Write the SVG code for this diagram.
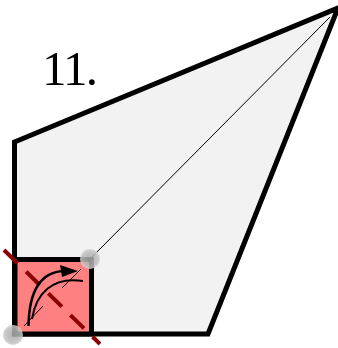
<svg xmlns="http://www.w3.org/2000/svg" width="338" height="348" viewBox="0 0 338 348">
<defs>
<radialGradient id="g"><stop offset="0" stop-color="#a8a8a8"/><stop offset="0.7" stop-color="#bcbcbc"/><stop offset="1" stop-color="#d0d0d0"/></radialGradient>
</defs>
<style>.k{fill:none;stroke:#000}</style>
<path d="M14.500 142L338 8L208 334L14.500 334Z" fill="#f2f2f2" stroke="#000" stroke-width="5" stroke-linejoin="miter"/>
<text x="42" y="85" font-family="'Liberation Serif','Times New Roman',serif" font-size="49" textLength="56" lengthAdjust="spacing" fill="#000">11.</text>
<g id="connectors">
<path class="k" d="M92 257L330 17" stroke-width="1"/>
</g>
<g id="square">
<rect x="15" y="259.500" width="76.500" height="74.500" fill="#ff8080" stroke="#000" stroke-width="5"/>
</g>
<g id="points">
<circle cx="90" cy="259" r="10" fill="url(#g)" fill-opacity="0.85"/>
<circle cx="13" cy="335" r="10" fill="url(#g)" fill-opacity="0.85"/>
</g>
<path d="M4 250L100 344" fill="none" stroke="#8b0000" stroke-width="4" stroke-dasharray="19 12"/>
<g id="arcs">
<path class="k" d="M24 326L43 306" stroke-width="1"/>
<path class="k" d="M62 288L81 269" stroke-width="1"/>
<path class="k" d="M28.500 326C29 296 38 272 64 271" stroke-width="2.500"/>
<path d="M78 271L60 265L62 277Z" fill="#000"/>
<path class="k" d="M32 319C36 294 52 276 83 281" stroke-width="2"/>
</g>
</svg>
